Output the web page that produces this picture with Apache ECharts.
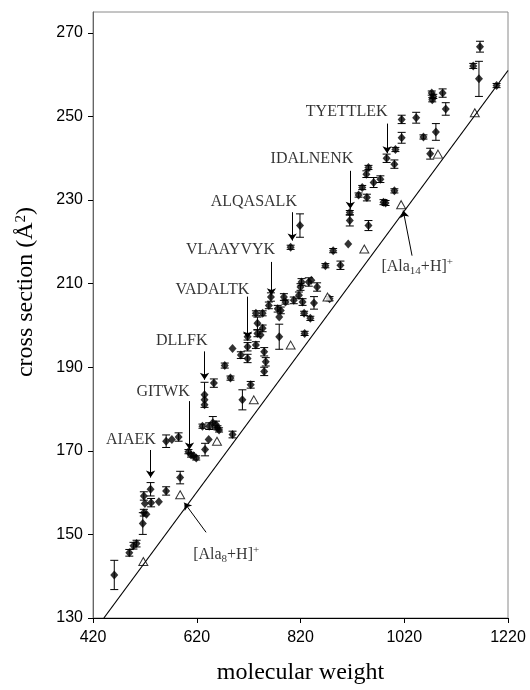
<!DOCTYPE html>
<html>
<head>
<meta charset="utf-8">
<script src="https://cdn.jsdelivr.net/npm/echarts@6/dist/echarts.min.js"></script>
<style>
  html, body { margin: 0; padding: 0; background: #fff; }
  #chart { width: 530px; height: 690px; }
</style>
</head>
<body>
<div id="chart"></div>
<script>
const xTicks = [420, 620, 820, 1020, 1220]
const yTicks = [130, 150, 170, 190, 210, 230, 250, 270]

// peptides (filled diamonds): molecular weight, cross section, error half-width
const pepMW = [461, 490, 498, 504, 516, 518, 523, 518, 520, 531, 532, 547, 561, 588, 561, 572, 585,
  604, 609, 619, 614, 636, 631, 644, 651, 657, 660, 663, 643, 689, 635, 635, 635, 653, 674, 685, 708, 724,
  689, 705, 718, 718, 718, 734, 737, 743, 747, 734, 747, 737, 750, 753, 750,
  763, 759, 776, 782, 779, 788, 791, 779, 807, 817, 820, 822, 824, 827, 836, 841, 852, 846, 828, 839, 868, 876,
  801, 819, 883, 897, 912, 915, 915, 951, 932, 948, 939, 947, 961, 974, 951, 980, 984, 986, 1001, 1001, 1003,
  1015, 1015, 1043, 1057, 1070, 1081, 1073, 1076, 1074, 1094, 1100, 1153, 1164, 1198, 1166]
const pepCS = [140.3, 145.6, 147.3, 147.8, 152.6, 155.2, 154.8, 159.2, 157.4, 160.8, 157.6, 157.8, 160.4, 163.6, 172.3, 172.7, 173.3,
  169.8, 169, 168.3, 168.8, 170.3, 175.9, 175.9, 176.7, 176.3, 175.5, 175, 172.7, 173.9, 183.4, 182.2, 181, 186.2, 190.4, 187.4, 182.2, 185.8,
  194.5, 192.9, 194.9, 197.3, 192.1, 195.3, 198.1, 197.7, 199.3, 202.9, 202.9, 200.5, 193.7, 191.3, 189,
  206.8, 204.8, 204, 203.6, 202, 206.8, 205.6, 197.3, 206, 207.2, 209.2, 210.4, 205.6, 202.9, 210.4, 210.8, 209.2, 205.4, 198.1, 201.7, 214.3, 206.4,
  218.7, 223.9, 217.9, 214.4, 219.5, 225.1, 227, 223.9, 231.2, 230.6, 233, 236.2, 234.2, 235, 237.8, 229.5, 229.3, 240, 238.6, 232.2, 242.1,
  249.3, 244.9, 249.7, 245.1, 241.1, 246.3, 255.6, 254.8, 254, 255.6, 251.8, 262.1, 259, 257.4, 266.7]
const pepErr = [3.5, 0.8, 0.8, 0.8, 2.6, 0.8, 0, 1, 0, 1.6, 1, 0, 1, 1.5, 1.5, 0, 1,
  0.5, 0.5, 0.5, 0, 1.5, 0.5, 0.8, 1.5, 0.8, 0.5, 0.5, 0, 0.8, 3, 0, 0, 1, 0.6, 0.5, 2.4, 0.8,
  0, 0.8, 1, 0.8, 1, 0.8, 0.8, 0, 0.8, 0.6, 0.6, 1.5, 1, 1, 1,
  1, 0.8, 0.8, 0.8, 0, 0.8, 0.5, 3, 0.8, 0.8, 0.8, 0.8, 0.8, 0.5, 1, 0, 1, 1.5, 0.5, 0.5, 0.5, 0.5,
  0.5, 2.8, 0.5, 1, 0, 1.3, 0.5, 1.2, 0.5, 0.8, 0.5, 0.8, 1.2, 0.8, 0.5, 0.6, 0.6, 1, 1, 0.5, 0.5,
  1, 1.3, 1.3, 0.5, 1.3, 2, 0.5, 0.5, 0.5, 1, 1.5, 0.6, 4.2, 0.5, 1.3]

// polyalanine [Ala_n+H]+ (open triangles)
const alaMW = [517, 588, 659, 730, 801, 872, 943, 1014, 1085, 1156]
const alaCS = [143.5, 159.5, 172.3, 182.2, 195.3, 206.8, 218.3, 228.9, 241, 250.9]

// fitted line through the polyalanine points
const fitLine = [[441, 130], [1220, 261]]

// annotations
const noteText = ['AIAEK', 'GITWK', 'DLLFK', 'VADALTK', 'VLAAYVYK', 'ALQASALK', 'IDALNENK', 'TYETTLEK',
  '[Ala{sub|8}+H]{sup|+}', '[Ala{sub|14}+H]{sup|+}']
const notePos = [[494, 172.6], [556, 184], [592, 196.1], [651, 208.4], [686, 217.9], [731, 229.5],
  [843, 239.8], [910, 251], [614, 145], [977, 214]]
const noteAlign = ['center', 'center', 'center', 'center', 'center', 'center', 'center', 'center', 'left', 'left']
const arrowFrom = [[531, 170.2], [606, 181.9], [635, 193.8], [718, 206.9], [764, 215.2], [804, 227.1],
  [916, 237], [987, 248.3], [638, 150.5], [1035, 216.7]]
const arrowTo = [[531, 163.6], [606, 170.3], [635, 187], [718, 196.9], [764, 207.2], [804, 220.3],
  [916, 227.9], [987, 241.2], [596, 157.6], [1018, 227.5]]

const serif = 'Liberation Serif'
const sans = 'Liberation Sans'

const chart = echarts.init(document.getElementById('chart'))

const richText = {
  sub: { fontFamily: serif, fontSize: 11, lineHeight: 11, verticalAlign: 'bottom', color: '#000' },
  sup: { fontFamily: serif, fontSize: 11, lineHeight: 11, verticalAlign: 'top', color: '#000' }
}

chart.setOption({
  animation: false,
  grid: { left: 93, right: 22, top: 12, bottom: 69, show: true, borderColor: '#8a8a8a', borderWidth: 1 },
  xAxis: {
    type: 'value',
    min: 420,
    max: 1220,
    interval: 200,
    splitLine: { show: false },
    axisLine: { lineStyle: { color: '#000', width: 1 } },
    axisTick: { length: 5, lineStyle: { color: '#000' }, customValues: xTicks },
    axisLabel: {
      fontFamily: sans, fontSize: 16, color: '#000', margin: 12, customValues: xTicks,
      formatter: v => String(v)
    },
    name: 'molecular weight',
    nameLocation: 'middle',
    nameGap: 43,
    nameTextStyle: { fontFamily: serif, fontSize: 24, color: '#000' }
  },
  yAxis: {
    type: 'value',
    min: 130,
    max: 275,
    interval: 20,
    splitLine: { show: false },
    axisLine: { show: true, lineStyle: { color: '#666', width: 1 } },
    axisTick: { show: true, length: 5, lineStyle: { color: '#000' }, customValues: yTicks },
    axisLabel: {
      fontFamily: sans, fontSize: 16, color: '#000', margin: 10, customValues: yTicks,
      formatter: v => (yTicks.indexOf(v) >= 0 ? String(v) : '')
    },
    name: 'cross section (Å{sup|2})',
    nameLocation: 'middle',
    nameGap: 55,
    nameTextStyle: {
      fontFamily: serif, fontSize: 24, color: '#000',
      padding: [0, 0, 0, 46],
      rich: { sup: { fontFamily: serif, fontSize: 15, lineHeight: 15, verticalAlign: 'top', color: '#000' } }
    }
  },
  series: [
    {
      type: 'line',
      data: fitLine,
      symbol: 'none',
      silent: true,
      lineStyle: { color: '#000', width: 1.2 }
    },
    {
      type: 'custom',
      silent: true,
      data: pepMW.map((x, i) => [x, pepCS[i], pepErr[i]]),
      renderItem (params, api) {
        const x = api.value(0)
        const y = api.value(1)
        const e = api.value(2)
        if (!e) return null
        const top = api.coord([x, y + e])
        const bot = api.coord([x, y - e])
        const w = 4
        const style = { stroke: '#000', lineWidth: 1 }
        return {
          type: 'group',
          children: [
            { type: 'line', shape: { x1: top[0], y1: top[1], x2: bot[0], y2: bot[1] }, style },
            { type: 'line', shape: { x1: top[0] - w, y1: top[1], x2: top[0] + w, y2: top[1] }, style },
            { type: 'line', shape: { x1: bot[0] - w, y1: bot[1], x2: bot[0] + w, y2: bot[1] }, style }
          ]
        }
      }
    },
    {
      type: 'scatter',
      silent: true,
      data: pepMW.map((x, i) => [x, pepCS[i]]),
      symbol: 'diamond',
      symbolSize: [8, 9],
      itemStyle: { color: '#000' }
    },
    {
      type: 'scatter',
      silent: true,
      data: alaMW.map((x, i) => [x, alaCS[i]]),
      symbol: 'triangle',
      symbolSize: [9, 8],
      itemStyle: { color: '#fff', borderColor: '#000', borderWidth: 1 }
    },
    {
      type: 'scatter',
      silent: true,
      symbolSize: 1,
      itemStyle: { color: 'rgba(0,0,0,0)' },
      data: notePos.map((p, i) => ({
        value: p,
        label: {
          show: true,
          position: [0, 0],
          align: noteAlign[i],
          verticalAlign: 'middle',
          formatter: noteText[i],
          fontFamily: serif,
          fontSize: 16,
          lineHeight: 20,
          color: '#000',
          rich: richText
        }
      })),
      markLine: {
        silent: true,
        symbol: ['none', 'arrow'],
        symbolSize: 7,
        label: { show: false },
        lineStyle: { color: '#000', width: 1, type: 'solid' },
        data: arrowFrom.map((f, i) => [{ coord: f }, { coord: arrowTo[i] }])
      }
    }
  ]
})
</script>
</body>
</html>
